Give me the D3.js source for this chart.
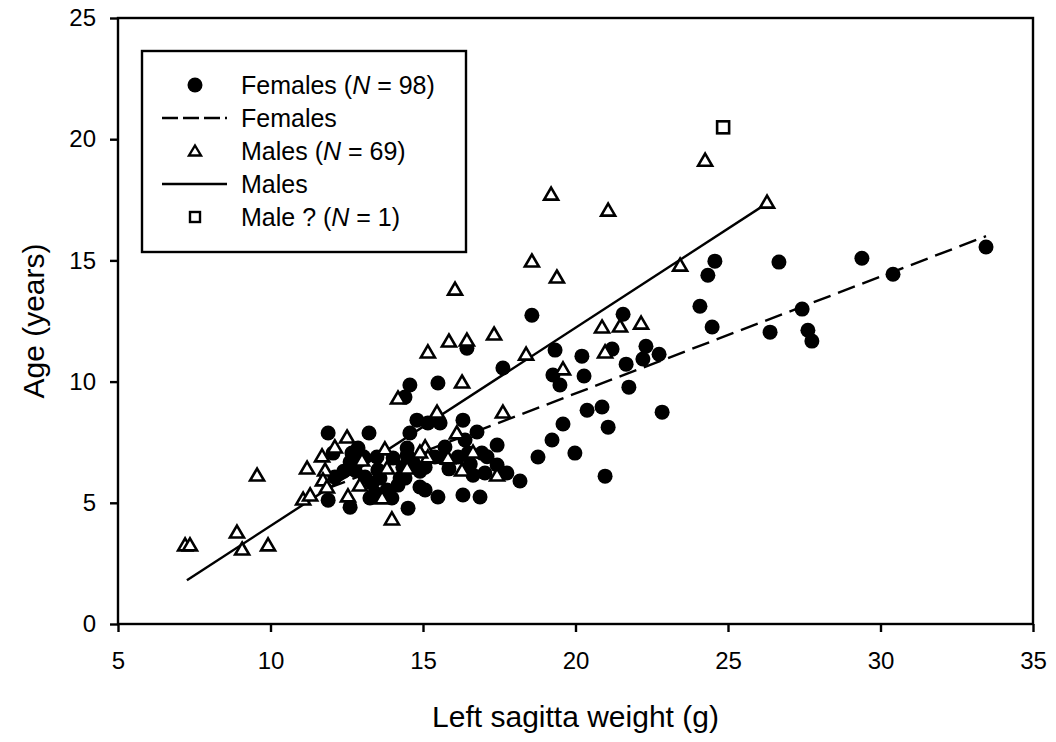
<!DOCTYPE html>
<html>
<head>
<meta charset="utf-8">
<script src="https://cdn.jsdelivr.net/npm/d3@7"></script>
<style>
    body { margin: 0; background: #fff; }
    text { font-family: "Liberation Sans", Arial, sans-serif; fill: #000; }
</style>
</head>
<body>
<svg id="canvas" width="1056" height="742"></svg>
<script>
// Data.
const X_TICKS = [5, 10, 15, 20, 25, 30, 35];
const Y_TICKS = [0, 5, 10, 15, 20, 25];

const femalesX = [33.46, 30.41, 29.39, 27.75, 27.62, 27.43, 26.38, 26.67, 24.57, 24.34, 24.48, 24.08,
    22.84, 22.74, 22.31, 22.21, 21.75, 21.66, 21.56, 21.20, 21.07, 20.97, 20.87, 20.38, 20.28, 20.21,
    19.98, 19.59, 19.49, 19.26, 19.33, 19.23, 18.77, 18.57, 18.18, 17.62,
    17.43, 16.93, 17.43, 17.03, 17.75, 16.87,
    15.49, 15.16, 15.56, 16.31, 16.77, 16.38, 15.72, 16.48, 16.15, 15.39, 16.64, 15.07, 15.49, 16.31, 15.07, 15.66,
    14.57, 14.41, 11.89, 13.23, 14.80, 14.57, 12.67, 12.87, 12.05, 12.61, 12.77, 13.49, 14.02, 13.52, 13.10,
    13.33, 13.59, 14.25, 13.43, 13.82, 14.18, 11.89, 12.61, 13.26, 13.98, 14.90, 14.51, 14.48, 14.67, 14.34,
    14.41, 12.11, 14.48, 16.44, 15.85, 16.55, 13.05, 12.40, 14.90, 17.10];
const femalesY = [15.55, 14.43, 15.09, 11.67, 12.12, 12.99, 12.04, 14.93, 14.97, 14.39, 12.25, 13.11,
    8.74, 11.13, 11.46, 10.93, 9.77, 10.72, 12.78, 11.34, 8.12, 6.10, 8.95, 8.82, 10.23, 11.05,
    7.05, 8.25, 9.86, 10.27, 11.30, 7.59, 6.89, 12.74, 5.90, 10.56,
    7.38, 7.05, 6.56, 6.23, 6.23, 5.24,
    9.94, 8.29, 8.29, 8.41, 7.92, 7.59, 7.30, 7.05, 6.89, 6.89, 6.14, 5.53, 5.24, 5.32, 6.47, 6.85,
    9.86, 9.36, 7.88, 7.88, 8.41, 7.88, 7.05, 7.26, 7.05, 6.68, 6.35, 6.89, 6.85, 6.35, 6.06,
    5.81, 6.02, 6.02, 5.40, 5.53, 5.73, 5.11, 4.82, 5.20, 5.20, 5.65, 4.78, 7.26, 6.68, 6.47,
    6.02, 6.06, 6.97, 11.38, 6.40, 6.60, 6.90, 6.30, 6.30, 6.90];

const malesX = [7.20, 7.36, 8.90, 9.07, 9.92, 9.56, 11.07, 11.20, 11.30, 11.69, 11.79, 11.72, 11.85,
    12.11, 12.51, 12.54, 12.93, 13.00, 13.75, 13.66, 13.82, 13.98, 14.18, 15.46, 16.28, 15.16, 15.85,
    16.44, 16.05, 17.33, 16.11, 15.07, 15.16, 16.28, 17.43, 16.64, 15.82, 17.62, 18.38, 19.59, 18.57,
    19.39, 19.20, 21.07, 20.87, 21.46, 22.15, 20.97, 23.43, 24.25, 26.28, 14.90, 14.48];
const malesY = [3.26, 3.26, 3.79, 3.09, 3.26, 6.14, 5.15, 6.43, 5.32, 6.93, 6.35, 5.94, 5.65,
    7.30, 7.71, 5.28, 5.73, 6.76, 7.22, 5.20, 6.43, 4.33, 9.32, 8.74, 9.98, 11.22, 11.67,
    11.71, 13.81, 11.96, 7.88, 7.30, 6.89, 6.35, 6.14, 7.09, 6.85, 8.74, 11.13, 10.52, 14.97,
    14.31, 17.73, 17.07, 12.25, 12.29, 12.41, 11.22, 14.80, 19.13, 17.40, 7.09, 6.43];

const unsureX = [24.84];
const unsureY = [20.49];

// Regression lines: [start x, end x], slope, intercept.
const femaleFitX = [11.89, 33.46];
const femaleFit = { slope: 0.482, intercept: -0.13 };
const maleFitX = [7.26, 26.28];
const maleFit = { slope: 0.8176, intercept: -4.13 };

const legendLabels = [
    ["Females (", "N", " = 98)"],
    ["Females"],
    ["Males (", "N", " = 69)"],
    ["Males"],
    ["Male ? (", "N", " = 1)"]
];

(function () {

    let margin = { left: 118, right: 1033, top: 18, bottom: 624 };
    let svg = d3.select("#canvas");

    let xScale = d3.scaleLinear().domain([5, 35]).range([margin.left, margin.right]);
    let yScale = d3.scaleLinear().domain([0, 25]).range([margin.bottom, margin.top]);

    // Axes (ticks outside, no domain line; frame drawn separately).
    let xAxis = svg.append("g")
        .attr("transform", "translate(0," + margin.bottom + ")")
        .call(d3.axisBottom(xScale).tickValues(X_TICKS).tickSize(8).tickPadding(20).tickFormat(d3.format("d")));
    let yAxis = svg.append("g")
        .attr("transform", "translate(" + margin.left + ",0)")
        .call(d3.axisLeft(yScale).tickValues(Y_TICKS).tickSize(8).tickPadding(14).tickFormat(d3.format("d")));
    [xAxis, yAxis].forEach(function (g) {
        g.select(".domain").remove();
        g.selectAll(".tick line").attr("stroke", "#000").attr("stroke-width", 2.4);
        g.selectAll(".tick text")
            .attr("fill", "#000")
            .style("font-family", "'Liberation Sans', Arial, sans-serif")
            .style("font-size", "24px");
    });

    svg.append("rect")
        .attr("x", margin.left)
        .attr("y", margin.top)
        .attr("width", margin.right - margin.left)
        .attr("height", margin.bottom - margin.top)
        .attr("fill", "none")
        .attr("stroke", "#000")
        .attr("stroke-width", 2.4);

    // Axis titles.
    svg.append("text")
        .attr("x", (margin.left + margin.right) / 2)
        .attr("y", 727)
        .attr("text-anchor", "middle")
        .attr("font-size", 30)
        .text("Left sagitta weight (g)");
    svg.append("text")
        .attr("transform", "translate(44," + (margin.top + margin.bottom) / 2 + ") rotate(-90)")
        .attr("text-anchor", "middle")
        .attr("font-size", 30)
        .text("Age (years)");

    // Symbol helpers.
    function trianglePath(cx, cy, w, h) {
        return "M" + cx + "," + (cy - h * 0.55) +
            "L" + (cx + w / 2) + "," + (cy + h * 0.45) +
            "L" + (cx - w / 2) + "," + (cy + h * 0.45) + "Z";
    }

    let plot = svg.append("g");

    // Fitted lines.
    let line = d3.line().x(d => xScale(d[0])).y(d => yScale(d[1]));
    plot.append("path")
        .datum(femaleFitX.map(x => [x, femaleFit.slope * x + femaleFit.intercept]))
        .attr("fill", "none")
        .attr("stroke", "#000")
        .attr("stroke-width", 2.4)
        .attr("stroke-dasharray", "18,8")
        .attr("d", line);
    plot.append("path")
        .datum(maleFitX.map(x => [x, maleFit.slope * x + maleFit.intercept]))
        .attr("fill", "none")
        .attr("stroke", "#000")
        .attr("stroke-width", 2.4)
        .attr("d", line);

    // Females: filled circles.
    plot.selectAll(".female")
        .data(femalesX.map((x, i) => [x, femalesY[i]]))
        .enter().append("circle")
        .attr("class", "female")
        .attr("cx", d => xScale(d[0]))
        .attr("cy", d => yScale(d[1]))
        .attr("r", 7.5)
        .attr("fill", "#000");

    // Males: open triangles.
    plot.selectAll(".male")
        .data(malesX.map((x, i) => [x, malesY[i]]))
        .enter().append("path")
        .attr("class", "male")
        .attr("d", d => trianglePath(xScale(d[0]), yScale(d[1]), 14, 12))
        .attr("fill", "#fff")
        .attr("stroke", "#000")
        .attr("stroke-width", 2.6)
        .attr("stroke-linejoin", "miter");

    // Unsure male: open square.
    plot.selectAll(".unsure")
        .data(unsureX.map((x, i) => [x, unsureY[i]]))
        .enter().append("rect")
        .attr("class", "unsure")
        .attr("x", d => xScale(d[0]) - 6)
        .attr("y", d => yScale(d[1]) - 6)
        .attr("width", 12)
        .attr("height", 12)
        .attr("fill", "#fff")
        .attr("stroke", "#000")
        .attr("stroke-width", 2.6);

    // Legend.
    let legend = svg.append("g");
    legend.append("rect")
        .attr("x", 142).attr("y", 51)
        .attr("width", 324).attr("height", 201)
        .attr("fill", "#fff")
        .attr("stroke", "#000")
        .attr("stroke-width", 2.4);

    let rowY = [85, 118, 151, 184, 217];
    let symX = 195;
    legend.append("circle").attr("cx", symX).attr("cy", rowY[0]).attr("r", 7.5).attr("fill", "#000");
    legend.append("line")
        .attr("x1", 162).attr("x2", 227).attr("y1", rowY[1]).attr("y2", rowY[1])
        .attr("stroke", "#000").attr("stroke-width", 2.4).attr("stroke-dasharray", "16,5");
    legend.append("path")
        .attr("d", trianglePath(symX, rowY[2], 12, 10))
        .attr("fill", "#fff").attr("stroke", "#000").attr("stroke-width", 2.4);
    legend.append("line")
        .attr("x1", 162).attr("x2", 227).attr("y1", rowY[3]).attr("y2", rowY[3])
        .attr("stroke", "#000").attr("stroke-width", 2.4);
    legend.append("rect")
        .attr("x", symX - 5).attr("y", rowY[4] - 5).attr("width", 10).attr("height", 10)
        .attr("fill", "#fff").attr("stroke", "#000").attr("stroke-width", 2.4);

    legendLabels.forEach(function (parts, i) {
        let t = legend.append("text")
            .attr("x", 241)
            .attr("y", rowY[i])
            .attr("dy", "0.36em")
            .attr("font-size", 25);
        parts.forEach(function (p, j) {
            t.append("tspan")
                .attr("font-style", j === 1 ? "italic" : "normal")
                .text(p);
        });
    });

})();
</script>
</body>
</html>
